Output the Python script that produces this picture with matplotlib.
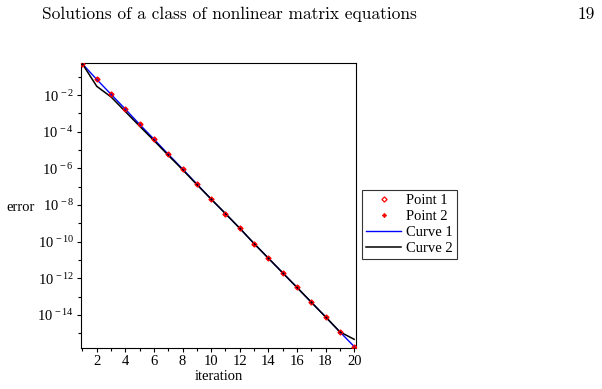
import matplotlib
matplotlib.use('Agg')
import matplotlib.pyplot as plt
from matplotlib.ticker import FixedLocator, NullFormatter

plt.rcParams['font.family'] = ['Liberation Serif', 'DejaVu Serif']
plt.rcParams['mathtext.fontset'] = 'custom'
plt.rcParams['mathtext.rm'] = 'Liberation Serif'
plt.rcParams['mathtext.it'] = 'Liberation Serif:italic'

# data
iteration = list(range(1, 21))
err_points = [5.0e-1, 7.1e-2, 1.1e-2, 1.7e-3, 2.5e-4, 3.9e-5, 5.9e-6, 9.3e-7,
              1.4e-7, 2.1e-8, 3.4e-9, 5.4e-10, 7.9e-11, 1.26e-11, 2.0e-12,
              3.2e-13, 5.0e-14, 7.9e-15, 1.2e-15, 1.9e-16]
err_curve2 = [5.0e-1, 3.0e-2, 7.9e-3, 1.26e-3, 2.0e-4, 3.3e-5, 5.2e-6, 8.5e-7,
              1.3e-7, 2.1e-8, 3.4e-9, 5.4e-10, 7.9e-11, 1.26e-11, 2.0e-12,
              3.2e-13, 5.0e-14, 7.9e-15, 1.2e-15, 4.7e-16]
ytick_exp = [-2, -4, -6, -8, -10, -12, -14]
yminor_exp = [-1, -3, -5, -7, -9, -11, -13, -15]
xticks = [2, 4, 6, 8, 10, 12, 14, 16, 18, 20]

fig = plt.figure(figsize=(6.02, 3.89), dpi=100)
ax = fig.add_axes([0.1346, 0.1046, 0.4565, 0.7325])

ax.plot(iteration, err_points, color='#0000ff', lw=1.0, label='Curve 1', zorder=2)
ax.plot(iteration, err_curve2, color='black', lw=1.1, label='Curve 2', zorder=3)
ax.plot(iteration, err_points, ls='none', marker='D', ms=2.6, mfc='none',
        mec='red', mew=0.9, label='Point 1', zorder=4)
ax.plot(iteration, err_points, ls='none', marker='D', ms=2.2, mfc='red',
        mec='red', mew=0.5, label='Point 2', zorder=1)

ax.set_yscale('log')
ax.set_xlim(0.9, 20.12)
ax.set_ylim(10 ** -15.82, 10 ** -0.27)

ax.yaxis.set_major_locator(FixedLocator([10.0 ** e for e in ytick_exp]))
ax.set_yticklabels([r'10$^{\,%d}$' % e for e in ytick_exp])
ax.yaxis.set_minor_locator(FixedLocator([10.0 ** e for e in yminor_exp]))
ax.yaxis.set_minor_formatter(NullFormatter())

ax.set_xticks(xticks)
ax.set_xticks(range(1, 21, 2), minor=True)

ax.tick_params(which='major', direction='out', length=3, width=0.8, labelsize=10.5, pad=2)
ax.tick_params(which='minor', direction='out', length=2, width=0.8)
for s in ax.spines.values():
    s.set_linewidth(0.8)

ax.set_xlabel('iteration', fontsize=10.5, labelpad=1)
fig.text(0.01, 0.467, 'error', fontsize=10.5, va='center', ha='left')

handles, labels = ax.get_legend_handles_labels()
order = [2, 3, 0, 1]
leg = fig.legend([handles[i] for i in order], [labels[i] for i in order],
                 loc='upper left', bbox_to_anchor=(0.601, 0.512),
                 fontsize=10.5, frameon=True, fancybox=False, edgecolor='black',
                 handlelength=2.4, handletextpad=0.3, borderpad=0.3,
                 labelspacing=0.18, borderaxespad=0)
leg.get_frame().set_linewidth(0.8)

fig.text(0.07, 0.962, 'Solutions of a class of nonlinear matrix equations',
         fontsize=12.5, family='cmr10', va='center', ha='left')
fig.text(0.988, 0.962, '19', fontsize=12.5, family='cmr10', va='center', ha='right')

fig.savefig('out.png', dpi=100)
